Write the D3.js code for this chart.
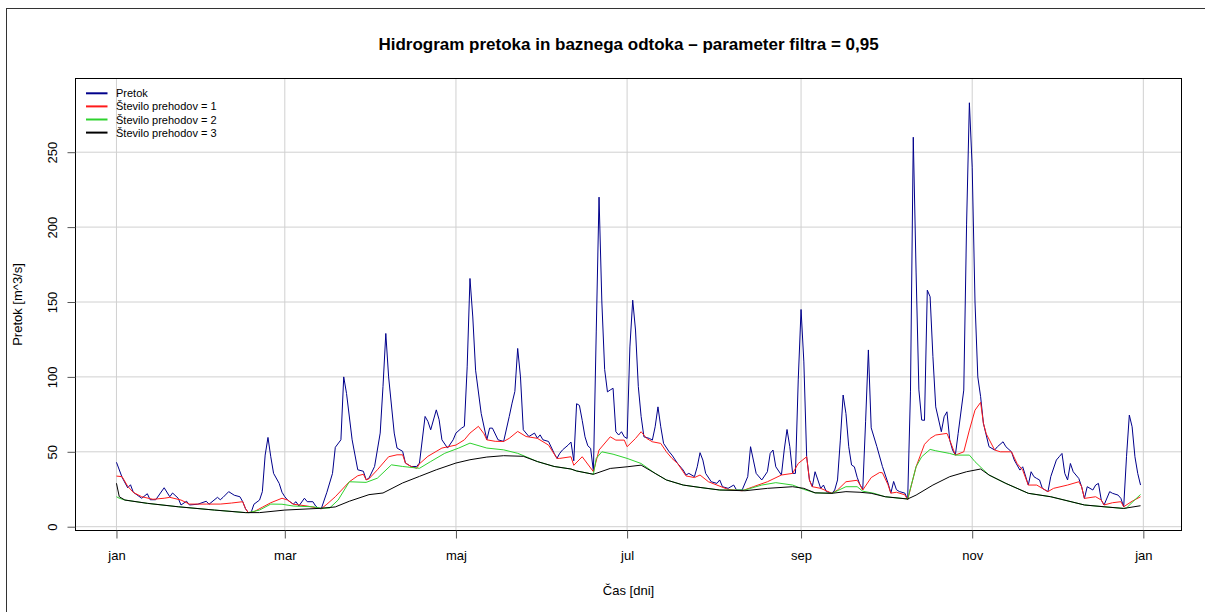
<!DOCTYPE html>
<html>
<head>
<meta charset="utf-8">
<script src="https://cdn.jsdelivr.net/npm/d3@7"></script>
<style>
  body { margin: 0; background: #fff; }
  svg { display: block; }
  text { font-family: "Liberation Sans", Arial, sans-serif; fill: #000; }
</style>
</head>
<body>
<svg id="chart" width="1205" height="612"></svg>
<script>
// Daily discharge (Pretok) and baseflow after 1, 2 and 3 filter passes.
// Each point: [day of year (0 = 1 Jan), value in m^3/s]
const monthLabels = ["jan", "mar", "maj", "jul", "sep", "nov", "jan"];
const yTicks = [0, 50, 100, 150, 200, 250];
const seriesNames = ["Pretok", "Število prehodov = 1", "Število prehodov = 2", "Število prehodov = 3"];
const seriesColors = ["#00008b", "#ff1a1a", "#2ed22e", "#000000"];

const pretok = [[0,43],[2,33],[4,26],[5,28],[6,23],[9,19],[11,22],[12,18],[14,18],[17,26],[19,20],[20,22.5],[22,19],[23,14.5],[25,17],[26,14.5],[29,15],[32,17],[33,15],[36,19.6],[37,18],[38,19.6],[40,23.4],[42,21],[44,20],[45,16.7],[46,12],[47,9.4],[48,9.5],[49,15],[51,17.8],[52,23.4],[53,47.8],[54,59.6],[55,46.7],[56,35.6],[58,28.9],[59,23],[60,20],[61,17.8],[63,15.1],[64,16.7],[65,13.8],[67,19],[68,16.7],[70,16.7],[71,13.8],[72,12.3],[73,12],[75,23],[77,35.6],[78,53],[80,58],[81,100],[82,89],[84,58],[86,38],[88,37],[89,31.3],[90,32.4],[92,40.2],[94,62.5],[95,93.7],[96,129],[97,100],[99,62.5],[100,52.5],[102,50.3],[103,42.5],[105,40.2],[107,40.2],[108,42.5],[110,73.6],[111,70.3],[112,64.7],[114,78],[115,71.4],[116,58],[118,52.5],[120,58],[121,62.5],[123,65.8],[124,67],[125,106.7],[126,165.7],[127,140],[128,104.5],[130,75.6],[132,58],[133,65.8],[134,65.8],[136,58],[138,56.9],[140,73.6],[141,82.5],[142,90.3],[143,119],[144,100],[145,64.7],[147,60.2],[149,62.5],[150,59.1],[151,61.3],[152,58],[154,56.9],[156,49],[157,45.6],[158,49],[159,51.3],[161,54.5],[162,56.5],[163,44],[164,82.1],[165,81],[166,71],[167,60],[168,54],[169,52.3],[170,37],[171,130],[172,220],[173,150],[174,105],[175,90],[176,91.3],[177,92.4],[178,63.4],[179,61.2],[180,63.4],[181,60],[182,58.9],[183,120],[184,151.2],[185,131.3],[186,93.5],[187,73.5],[188,60],[190,58.9],[191,57.8],[192,66.7],[193,80],[194,66.7],[195,55.6],[197,50],[198,47.8],[200,42.2],[202,37.8],[203,34.5],[204,35.6],[206,33.4],[207,40],[208,49.4],[209,44.5],[210,35.6],[212,30],[214,28.9],[215,31.2],[216,26.7],[218,25.6],[220,27.8],[221,24.5],[223,24.5],[225,33.4],[226,53.4],[227,44.5],[228,35.6],[230,31.2],[232,36.7],[233,48.9],[234,51.2],[235,40],[237,34.5],[238,51.2],[239,64.9],[240,53.4],[241,35.6],[242,35.6],[243,98],[244,145],[245,110],[246,46.7],[247,31.2],[248,26.7],[249,36.7],[250,31.2],[251,25.6],[252,27.8],[253,23.4],[255,22.3],[256,24.5],[257,31.2],[258,57.8],[259,87.9],[260,75.6],[261,53.4],[262,41.2],[263,40],[264,33],[265,28],[266,25],[267,70],[268,118],[269,66],[271,53.6],[273,40.2],[275,29.1],[276,22.4],[277,30.2],[278,24.7],[279,23.5],[281,22.4],[282,18],[283,90],[284,260],[285,170],[286,91.3],[287,71.2],[288,71],[289,157.9],[290,153.5],[291,113.5],[292,80],[294,63.4],[295,73.4],[296,76.7],[297,57.8],[298,51.2],[299,47.8],[300,62.3],[302,91.2],[303,202],[304,283],[305,240],[306,150],[307,100],[308,86.8],[309,69],[311,53.4],[313,51.2],[314,53.4],[316,56.7],[317,53.4],[319,50],[320,44.5],[322,37.8],[323,40],[325,27.8],[326,36.7],[327,33.4],[328,32.2],[329,31.2],[330,25.6],[332,23.4],[333,33.4],[335,44.5],[336,46.7],[337,48.9],[338,35.6],[339,31.2],[340,42.2],[341,36.7],[343,32.2],[344,26.7],[345,18.9],[346,26.7],[348,24.5],[349,27.8],[350,28.9],[351,17.8],[352,14.5],[354,23.4],[355,22.3],[357,21.1],[358,18.9],[359,13.3],[360,46.7],[361,74.5],[362,66.7],[363,46.7],[364,35.6],[365,27.8]];

const prehod1 = [[0,33.8],[2,33.4],[4,27],[6,22.9],[9,20],[13,18.3],[17,19],[19,19.6],[23,17.8],[26,15.1],[32,15.1],[37,15.1],[41,15.8],[45,16.7],[46,12],[47,9.4],[49,10],[52,13],[55,16],[59,19],[61,17.8],[63,15],[68,13.8],[72,12.3],[73,12],[75,15],[78,20],[83,30],[86,34],[88,35],[89,31.3],[90,32],[93,38],[97,46.7],[100,48],[102,48],[103,42.5],[105,40.2],[107,39],[108,42],[111,47],[116,52.5],[121,54.5],[124,58],[126,62.5],[129,67],[131,62],[132,58],[135,57],[138,56.9],[140,59],[143,63.6],[146,60.2],[150,59],[154,54.5],[157,45.6],[158,45.6],[162,46.7],[163,41],[166,46.7],[170,36.7],[172,51.2],[176,60],[178,57.8],[181,57.8],[182,53.4],[185,58.9],[187,63.4],[189,58.9],[191,56.7],[194,55.6],[196,50],[198,45.6],[200,42.2],[203,33.9],[206,32.8],[208,34.5],[211,30],[214,27.8],[218,24.9],[223,24],[227,26.7],[232,30],[237,34.5],[241,35.6],[243,42.2],[246,46.7],[247,31],[248,26.7],[251,25.6],[255,22.3],[257,24.5],[260,30],[264,31],[265,28],[266,24.5],[269,32.8],[272,36.2],[273,36],[275,28],[276,22.4],[278,23],[281,21.3],[282,18],[285,40],[287,50],[288,55],[290,58.9],[292,61.2],[296,62.3],[297,57.8],[299,47.8],[302,50],[304,64.5],[306,77.8],[308,83],[309,69],[310,62],[313,51.2],[315,50],[319,50],[321,42.2],[323,37.8],[325,27.8],[328,27.8],[332,23.4],[334,25.6],[339,27.8],[343,30],[344,26.7],[345,18.9],[349,20],[351,17.8],[352,14.5],[355,16],[358,16.7],[359,13.3],[362,17],[365,20]];

const prehod2 = [[0,20],[1,19],[3,17.8],[11,15.6],[22,13.3],[35,11.1],[46,9.4],[47,9.4],[51,11.1],[55,15.1],[59,15],[63,13.8],[70,13.3],[73,12.3],[76,12.5],[79,17.8],[83,30],[89,29.6],[93,32.4],[98,41.3],[102,40.2],[108,39],[112,43.5],[117,49],[122,52.5],[126,55.8],[132,52.5],[138,51.3],[143,49],[146,46.7],[150,43.5],[156,40.2],[162,38.5],[164,37.2],[170,35],[171,45.6],[173,50],[177,48.4],[182,45.6],[187,42.2],[192,35.6],[196,31.2],[202,27.8],[208,26.2],[215,24.5],[224,24.5],[230,27.8],[235,29.4],[241,27.8],[245,24.9],[249,22.6],[255,22.3],[260,26.7],[264,26.7],[266,23.7],[270,22.3],[274,20],[282,18.5],[285,40],[287,46.7],[290,51.6],[292,50.7],[297,48.9],[299,47.8],[304,47.8],[306,43.4],[309,38],[311,34.5],[317,28.9],[325,22.3],[333,20],[345,14.5],[352,13.3],[359,12.2],[360,12.5],[363,18],[365,21.5]];

const prehod3 = [[0,29],[1,20],[3,17.8],[11,15.6],[22,13.3],[35,11.1],[46,9.4],[51,9.4],[60,11.1],[73,12.3],[78,13.2],[83,17],[90,21.4],[95,22.5],[102,29.2],[108,33.6],[114,38],[121,42.5],[126,44.7],[132,46.5],[138,47.4],[145,47],[150,43.5],[156,40.2],[162,38.5],[164,37.2],[170,35],[176,38.9],[182,40],[187,41.1],[192,35.6],[196,31.2],[202,27.8],[208,26.2],[215,24.5],[224,24],[232,25.6],[241,26.7],[245,25.6],[249,22.6],[255,22.3],[260,23.4],[265,23],[269,22.3],[274,20],[282,18.5],[285,21.1],[291,27.8],[297,33.4],[303,36.7],[308,38.5],[311,34.5],[317,28.9],[325,22.3],[333,20],[345,14.5],[352,13.3],[359,12.2],[365,14]];

const svg = d3.select("#chart");
const W = 1205, H = 612;
const plot = { left: 75.5, right: 1181.5, top: 78.5, bottom: 530.5 };

// Outer frame
svg.append("rect")
  .attr("x", 6.5).attr("y", 8.5)
  .attr("width", W + 100).attr("height", H + 100)
  .attr("fill", "none").attr("stroke", "#333").attr("stroke-width", 1);

// Dates for a leap year, day offsets measured from 1 January
const start = new Date(2020, 0, 1);
const dayToDate = d => new Date(start.getTime() + d * 864e5);

const x = d3.scaleTime()
  .domain([dayToDate(-14.6), dayToDate(379.6)])
  .range([plot.left, plot.right]);
const y = d3.scaleLinear()
  .domain([-2.2, 299.2])
  .range([plot.bottom - 0.5, plot.top]);

const monthTicks = d3.timeMonth.every(2).range(dayToDate(0), dayToDate(367));

// Grid
const grid = svg.append("g").attr("stroke", "#d0d0d0").attr("stroke-width", 1);
grid.selectAll("line.v").data(monthTicks).join("line")
  .attr("x1", d => x(d)).attr("x2", d => x(d))
  .attr("y1", plot.top).attr("y2", plot.bottom);
grid.selectAll("line.h").data(yTicks).join("line")
  .attr("x1", plot.left).attr("x2", plot.right)
  .attr("y1", d => y(d)).attr("y2", d => y(d));

// Series lines
const line = d3.line()
  .x(d => x(dayToDate(d[0])))
  .y(d => y(d[1]));
const allSeries = [pretok, prehod1, prehod2, prehod3];
svg.append("g").selectAll("path").data(allSeries).join("path")
  .attr("d", line)
  .attr("fill", "none")
  .attr("stroke", (d, i) => seriesColors[i])
  .attr("stroke-width", 1)
  .attr("stroke-linejoin", "round");

// Plot box
svg.append("rect")
  .attr("x", plot.left).attr("y", plot.top)
  .attr("width", plot.right - plot.left).attr("height", plot.bottom - plot.top)
  .attr("fill", "none").attr("stroke", "#000").attr("stroke-width", 1);

// X axis
const xAxis = svg.append("g")
  .attr("transform", `translate(0,${plot.bottom})`)
  .call(d3.axisBottom(x).tickValues(monthTicks)
    .tickFormat((d, i) => monthLabels[i]).tickSize(8).tickPadding(12));
xAxis.select(".domain").remove();
xAxis.selectAll(".tick line").attr("stroke", "#555");
xAxis.selectAll(".tick text")
  .attr("font-size", 13).attr("font-family", '"Liberation Sans", Arial, sans-serif')
  .attr("fill", "#000");

// Y axis with labels parallel to the axis
const yAxis = svg.append("g")
  .attr("transform", `translate(${plot.left},0)`)
  .call(d3.axisLeft(y).tickValues(yTicks).tickSize(8));
yAxis.select(".domain").remove();
yAxis.selectAll(".tick line").attr("stroke", "#555");
yAxis.selectAll(".tick text")
  .attr("x", null).attr("dy", null)
  .attr("transform", "translate(-19,0) rotate(-90)")
  .attr("text-anchor", "middle")
  .attr("font-size", 13).attr("font-family", '"Liberation Sans", Arial, sans-serif')
  .attr("fill", "#000");

// Titles
svg.append("text")
  .attr("x", (plot.left + plot.right) / 2).attr("y", 50)
  .attr("text-anchor", "middle")
  .attr("font-size", 17).attr("font-weight", "bold")
  .text("Hidrogram pretoka in baznega odtoka – parameter filtra = 0,95");
svg.append("text")
  .attr("x", (plot.left + plot.right) / 2).attr("y", 595)
  .attr("text-anchor", "middle").attr("font-size", 13)
  .text("Čas [dni]");
svg.append("text")
  .attr("transform", `translate(22,${(plot.top + plot.bottom) / 2}) rotate(-90)`)
  .attr("text-anchor", "middle").attr("font-size", 13)
  .text("Pretok [m^3/s]");

// Legend
const legend = svg.append("g").attr("transform", "translate(86,93.3)");
const rows = legend.selectAll("g").data(seriesNames).join("g")
  .attr("transform", (d, i) => `translate(0,${i * 13.1})`);
rows.append("line")
  .attr("x1", 0).attr("x2", 21.5).attr("y1", 0).attr("y2", 0)
  .attr("stroke", (d, i) => seriesColors[i]).attr("stroke-width", 2);
rows.append("text")
  .attr("x", 30).attr("y", 4)
  .attr("font-size", 11)
  .text(d => d);
</script>
</body>
</html>
